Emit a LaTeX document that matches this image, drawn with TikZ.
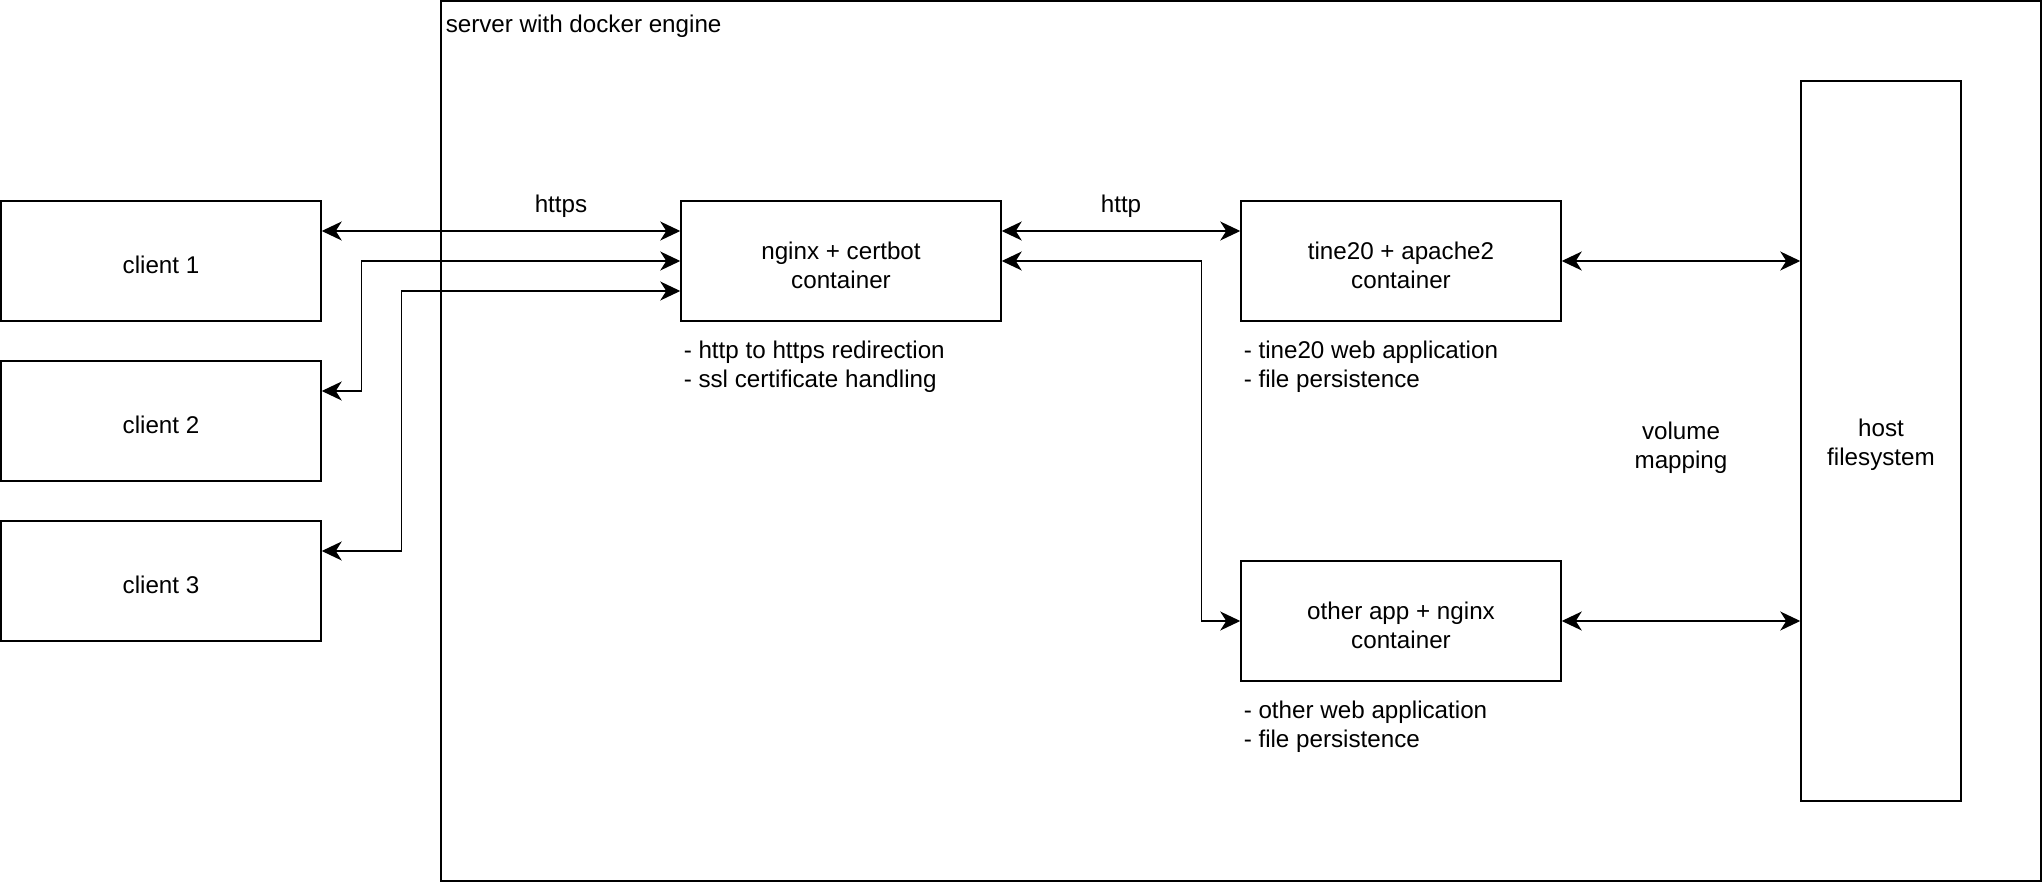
\documentclass[tikz,border=0pt]{standalone}
\usepackage{fontspec}
\setmainfont{Liberation Sans}
\usetikzlibrary{arrows.meta}
\begin{document}
\begin{tikzpicture}[x=1pt,y=-1pt,line width=0.75pt,
    font=\fontsize{12.1}{14.4}\selectfont,
    box/.style={draw,minimum width=160pt,minimum height=60pt,inner sep=0pt},
    boxtext/.style={align=center,inner sep=0pt,yshift=-2pt},
    link/.style={line width=0.6pt,{Stealth[length=10pt,width=9.5pt,inset=3pt]}-{Stealth[length=10pt,width=9.5pt,inset=3pt]}},
    note/.style={anchor=west,align=left,inner sep=0pt}]
    \useasboundingbox (-0.5,-0.5) rectangle (1020.5,440.5);
    % server frame
    \draw (220,0) rectangle (1020,440);
    \node[anchor=west,inner sep=0pt] (server) at (222,12.5) {server with docker engine};
    % clients
    \node[box,label={[boxtext]center:client 1}] (client1) at (80,130) {};
    \node[box,label={[boxtext]center:client 2}] (client2) at (80,210) {};
    \node[box,label={[boxtext]center:client 3}] (client3) at (80,290) {};
    % containers
    \node[box,label={[boxtext]center:nginx + certbot\\container}] (nginx) at (420,130) {};
    \node[box,label={[boxtext]center:tine20 + apache2\\container}] (tine) at (700,130) {};
    \node[box,label={[boxtext]center:other app + nginx\\container}] (other) at (700,310) {};
    \node[box,minimum width=80pt,minimum height=360pt,
          label={[boxtext]center:host\\filesystem}] (host) at (940,220) {};
    % notes
    \node[note] (nginxnote) at (341,183) {- http to https redirection\\- ssl certificate handling};
    \node[note] (tinenote) at (621,183) {- tine20 web application\\- file persistence};
    \node[note] (othernote) at (621,363) {- other web application\\- file persistence};
    \node[align=center,inner sep=0pt] (volume) at (840,223.5) {volume\\mapping};
    \node (https) at (280,102.5) {https};
    \node (http) at (560,102.5) {http};
    % connectors
    \draw[link] ([yshift=15pt]client1.east) -- ([yshift=15pt]nginx.west);
    \draw[link] ([yshift=15pt]client2.east) -- ++(20,0) |- (nginx.west);
    \draw[link] ([yshift=15pt]client3.east) -- ++(40,0) |- ([yshift=-15pt]nginx.west);
    \draw[link] ([yshift=15pt]nginx.east) -- ([yshift=15pt]tine.west);
    \draw[link] (nginx.east) -- ++(100,0) |- (other.west);
    \draw[link] (tine.east) -- (tine.east -| host.west);
    \draw[link] (other.east) -- (other.east -| host.west);
\end{tikzpicture}
\end{document}
